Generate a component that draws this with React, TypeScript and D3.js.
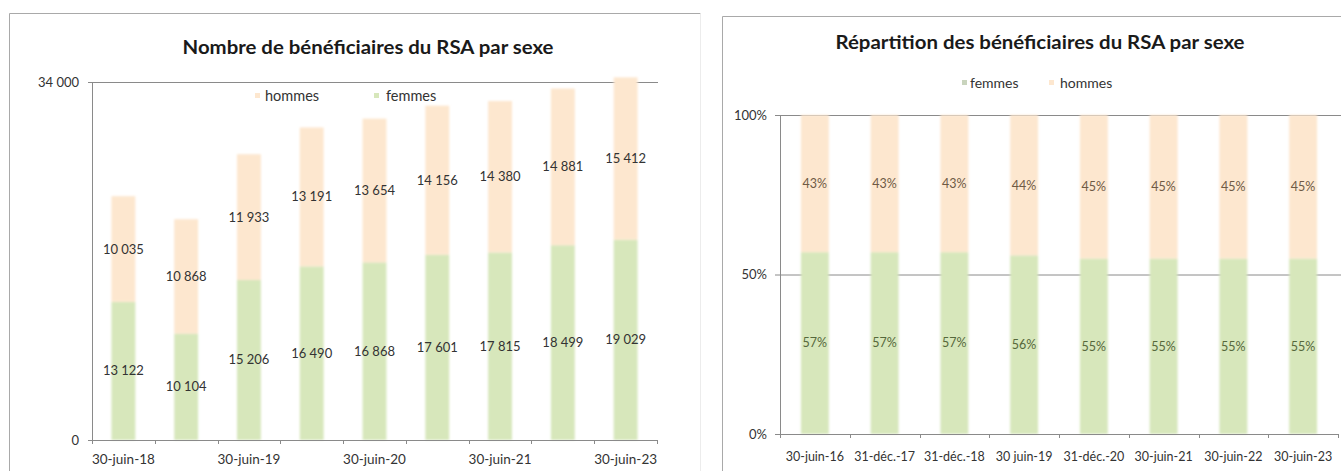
import React from "react";
import * as d3 from "d3";

// Nombre de bénéficiaires du RSA par sexe
const periodes = [
  "30-juin-18",
  "31-déc.-18",
  "30-juin-19",
  "31-déc.-19",
  "30-juin-20",
  "31-déc.-20",
  "30-juin-21",
  "30-juin-22",
  "30-juin-23",
];
const femmes = [13122, 10104, 15206, 16490, 16868, 17601, 17815, 18499, 19029];
const hommes = [10035, 10868, 11933, 13191, 13654, 14156, 14380, 14881, 15412];
const effectifTicks = [0, 34000];

// Répartition des bénéficiaires du RSA par sexe (en %)
const dates = [
  "30-juin-16",
  "31-déc.-17",
  "31-déc.-18",
  "30 juin-19",
  "31-déc.-20",
  "30-juin-21",
  "30-juin-22",
  "30-juin-23",
];
const partFemmes = [57, 57, 57, 56, 55, 55, 55, 55];
const partHommes = [43, 43, 43, 44, 45, 45, 45, 45];
const partTicks = [0, 50, 100];

const COL_F = "#d7e7bb";
const COL_H = "#fde7cf";
const AXIS = "#8a8a8a";
const FONT = "Lato, 'Open Sans', sans-serif";

const fr = d3.formatLocale({
  decimal: ",",
  thousands: "\u202f",
  grouping: [3],
  currency: ["", " €"],
});
const fmtNb = fr.format(",d");

function LeftChart() {
  const x0 = 92;
  const x1 = 657;
  const y = d3.scaleLinear().domain([0, 34000]).range([440, 82]);
  const x = d3
    .scaleBand<string>()
    .domain(periodes)
    .range([x0, x1])
    .paddingInner(0.62)
    .paddingOuter(0.31);
  const step = x.step();
  const base = y(0);

  return (
    <g>
      {/* cadre */}
      <path d="M9.5,480 V13.5 H700.5" fill="none" stroke="#a9a9a9" />
      <line x1={700.5} x2={700.5} y1={13.5} y2={480} stroke="#ececec" />
      <text
        x={368}
        y={54}
        textAnchor="middle"
        fontFamily={FONT}
        fontWeight={700}
        fontSize={18}
        fill="#1a1a1a"
        textLength={371}
        lengthAdjust="spacingAndGlyphs"
      >
        Nombre de bénéficiaires du RSA par sexe
      </text>

      {/* légende */}
      <rect x={255} y={93} width={5} height={5} fill={COL_H} />
      <text x={265} y={101} fontFamily={FONT} fontSize={14.5} fill="#333">
        hommes
      </text>
      <rect x={374} y={93} width={5} height={5} fill={COL_F} />
      <text x={386} y={101} fontFamily={FONT} fontSize={14.5} fill="#333">
        femmes
      </text>

      {/* ligne du maximum */}
      <line x1={x0} x2={x1 + 1} y1={y(34000) + 0.5} y2={y(34000) + 0.5} stroke={AXIS} />

      {/* barres empilées */}
      <g filter="url(#soft)">
        {periodes.map((p, i) => {
          const bx = x(p)!;
          const bw = x.bandwidth();
          const yF = y(femmes[i]);
          const yT = y(femmes[i] + hommes[i]);
          return (
            <g key={p}>
              <rect x={bx} y={yF} width={bw} height={base - yF} fill={COL_F} />
              <rect x={bx} y={yT} width={bw} height={yF - yT} fill={COL_H} />
            </g>
          );
        })}
      </g>

      {/* étiquettes de valeurs */}
      {periodes.map((p, i) => {
        const cx = x(p)! + x.bandwidth() / 2;
        return (
          <g key={"l" + p} fontFamily={FONT} fontSize={13} textAnchor="middle" fill="#333">
            <text x={cx} y={y(femmes[i] / 2)} dy="0.35em">
              {fmtNb(femmes[i])}
            </text>
            <text x={cx} y={y(femmes[i] + hommes[i] / 2)} dy="0.35em">
              {fmtNb(hommes[i])}
            </text>
          </g>
        );
      })}

      {/* axes */}
      <line x1={x0 + 0.5} x2={x0 + 0.5} y1={y(34000)} y2={base} stroke={AXIS} />
      <line x1={x0} x2={x1 + 1} y1={base + 0.5} y2={base + 0.5} stroke={AXIS} />
      {effectifTicks.map((t) => (
        <g key={"yt" + t}>
          <line x1={x0 - 4} x2={x0} y1={y(t) + 0.5} y2={y(t) + 0.5} stroke={AXIS} />
          <text
            x={79}
            y={y(t)}
            dy="0.35em"
            textAnchor="end"
            fontFamily={FONT}
            fontSize={13}
            fill="#333"
          >
            {fmtNb(t)}
          </text>
        </g>
      ))}
      {d3.range(periodes.length + 1).map((k) => {
        const tx = Math.round(x0 + k * step) + 0.5;
        return <line key={"xt" + k} x1={tx} x2={tx} y1={base} y2={base + 4} stroke={AXIS} />;
      })}
      {periodes.map((p, i) =>
        i % 2 === 0 ? (
          <text
            key={"xl" + p}
            x={x(p)! + x.bandwidth() / 2}
            y={459}
            dy="0.35em"
            textAnchor="middle"
            fontFamily={FONT}
            fontSize={13.5}
            fill="#333"
          >
            {p}
          </text>
        ) : null
      )}
    </g>
  );
}

function RightChart() {
  const x0 = 780;
  const x1 = 1338;
  const y = d3.scaleLinear().domain([0, 100]).range([434, 115]);
  const x = d3
    .scaleBand<string>()
    .domain(dates)
    .range([x0, x1])
    .paddingInner(0.6)
    .paddingOuter(0.3);
  const step = x.step();
  const base = y(0);

  return (
    <g>
      <path d="M722.5,480 V16.5 H1345" fill="none" stroke="#a9a9a9" />
      <text
        x={1040}
        y={49}
        textAnchor="middle"
        fontFamily={FONT}
        fontWeight={700}
        fontSize={18}
        fill="#1a1a1a"
        textLength={409}
        lengthAdjust="spacingAndGlyphs"
      >
        Répartition des bénéficiaires du RSA par sexe
      </text>

      {/* légende */}
      <rect x={962} y={80} width={5} height={5} fill="#c9d4bd" />
      <text x={970} y={88} fontFamily={FONT} fontSize={14} fill="#333">
        femmes
      </text>
      <rect x={1049} y={80} width={5} height={5} fill={COL_H} />
      <text x={1060} y={88} fontFamily={FONT} fontSize={14} fill="#333">
        hommes
      </text>

      {/* quadrillage */}
      {partTicks
        .filter((t) => t > 0)
        .map((t) => (
          <line key={"g" + t} x1={x0} x2={x1 + 4} y1={y(t) + 0.5} y2={y(t) + 0.5} stroke={AXIS} />
        ))}

      <g filter="url(#soft)">
        {dates.map((d, i) => {
          const bx = x(d)!;
          const bw = x.bandwidth();
          const yF = y(partFemmes[i]);
          const yT = y(partFemmes[i] + partHommes[i]);
          return (
            <g key={d}>
              <rect x={bx} y={yF} width={bw} height={base - yF} fill={COL_F} />
              <rect x={bx} y={yT} width={bw} height={yF - yT} fill={COL_H} />
            </g>
          );
        })}
      </g>

      {dates.map((d, i) => {
        const cx = x(d)! + x.bandwidth() / 2;
        return (
          <g key={"l" + d} fontFamily={FONT} fontSize={12.5} textAnchor="middle">
            <text x={cx} y={y(partFemmes[i] / 2)} dy="0.35em" fill="#56683c">
              {partFemmes[i]}%
            </text>
            <text x={cx} y={y(partFemmes[i] + partHommes[i] / 2)} dy="0.35em" fill="#6e5a45">
              {partHommes[i]}%
            </text>
          </g>
        );
      })}

      <line x1={x0 + 0.5} x2={x0 + 0.5} y1={y(100)} y2={base} stroke={AXIS} />
      <line x1={x0} x2={x1 + 1} y1={base + 0.5} y2={base + 0.5} stroke={AXIS} />
      {partTicks.map((t) => (
        <g key={"yt" + t}>
          <line x1={x0 - 5} x2={x0} y1={y(t) + 0.5} y2={y(t) + 0.5} stroke={AXIS} />
          <text
            x={767}
            y={y(t)}
            dy="0.35em"
            textAnchor="end"
            fontFamily={FONT}
            fontSize={13}
            fill="#333"
          >
            {t}%
          </text>
        </g>
      ))}
      {d3.range(dates.length + 1).map((k) => {
        const tx = Math.round(x0 + k * step) + 0.5;
        return <line key={"xt" + k} x1={tx} x2={tx} y1={base} y2={base + 4} stroke={AXIS} />;
      })}
      {dates.map((d) => (
        <text
          key={"xl" + d}
          x={x(d)! + x.bandwidth() / 2}
          y={457}
          dy="0.35em"
          textAnchor="middle"
          fontFamily={FONT}
          fontSize={12.5}
          fill="#333"
        >
          {d}
        </text>
      ))}
    </g>
  );
}

export default function App() {
  return (
    <svg
      width={1341}
      height={471}
      viewBox="0 0 1341 471"
      style={{ position: "absolute", left: 0, top: 0, background: "#fff" }}
    >
      <defs>
        <filter id="soft" x="-10%" y="-5%" width="120%" height="110%">
          <feGaussianBlur stdDeviation={1} />
        </filter>
      </defs>
      <rect width={1341} height={471} fill="#fff" />
      <LeftChart />
      <RightChart />
    </svg>
  );
}
